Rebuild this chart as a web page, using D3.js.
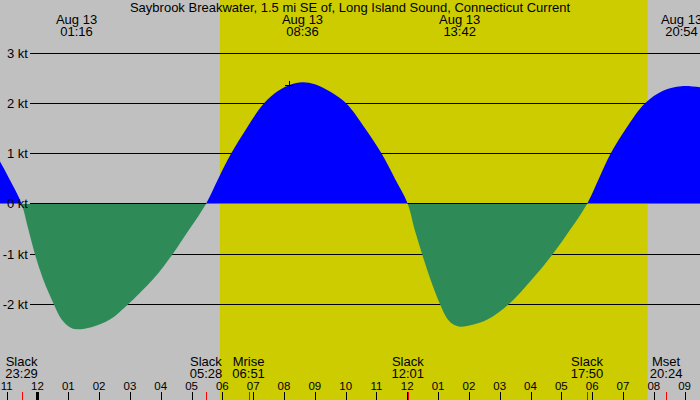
<!DOCTYPE html>
<html>
<head>
<meta charset="utf-8">
<script src="https://cdn.jsdelivr.net/npm/d3@7/dist/d3.min.js"></script>
<style>
  body { margin: 0; background: #c0c0c0; }
  svg { display: block; font-family: "Liberation Sans", Arial, sans-serif; }
</style>
</head>
<body>
<div id="chart"></div>
<script>
var title = "Saybrook Breakwater, 1.5 mi SE of, Long Island Sound, Connecticut Current";

// current speed (time, knots; + flood, - ebb)
var sampleTimes = [
  "08/12 22:05", "08/12 22:38", "08/12 23:05", "08/12 23:29", "08/12 23:42", "08/12 23:55",
  "08/13 00:11", "08/13 00:32", "08/13 00:47", "08/13 01:03", "08/13 01:16", "08/13 01:45",
  "08/13 02:21", "08/13 02:56", "08/13 03:45", "08/13 04:23", "08/13 04:56", "08/13 05:28",
  "08/13 05:52", "08/13 06:17", "08/13 06:47", "08/13 07:21", "08/13 07:49", "08/13 08:12",
  "08/13 08:36", "08/13 09:00", "08/13 09:32", "08/13 10:01", "08/13 10:38", "08/13 11:10",
  "08/13 11:36", "08/13 12:01", "08/13 12:14", "08/13 12:29", "08/13 12:45", "08/13 13:04",
  "08/13 13:19", "08/13 13:30", "08/13 13:42", "08/13 14:09", "08/13 14:36", "08/13 15:17",
  "08/13 16:03", "08/13 16:43", "08/13 17:18", "08/13 17:50", "08/13 18:13", "08/13 18:36",
  "08/13 19:06", "08/13 19:43", "08/13 20:18", "08/13 20:54", "08/13 21:36"];
var sampleKnots = [
  1.5, 1, 0.5, 0, -0.5, -1,
  -1.5, -2, -2.3, -2.45, -2.49, -2.45,
  -2.3, -2, -1.5, -1, -0.5, 0,
  0.5, 1, 1.5, 2, 2.25, 2.37,
  2.42, 2.38, 2.22, 2, 1.5, 1,
  0.5, 0, -0.5, -1, -1.5, -2,
  -2.3, -2.4, -2.44, -2.4, -2.3, -2,
  -1.5, -1, -0.5, 0, 0.5, 1,
  1.5, 2, 2.25, 2.34, 2.31];

// max current labels along the top
var maxTimes = ["08/13 01:16", "08/13 08:36", "08/13 13:42", "08/13 20:54"];

// slack / moon events along the bottom
var eventNames = ["Slack", "Slack", "Mrise", "Slack", "Slack", "Mset"];
var eventTimes = ["08/12 23:29", "08/13 05:28", "08/13 06:51", "08/13 12:01", "08/13 17:50", "08/13 20:24"];

// daylight
var sunrise = "08/13 05:55";
var sunset = "08/13 19:48";

// marker on the flood curve
var markTime = "08/13 08:10";
var markKnots = 2.37;

var yTicks = [3, 2, 1, 0, -1, -2];
var timeRange = ["08/12 22:47", "08/13 21:30"];

var width = 700, height = 400;
var parse = d3.timeParse("%m/%d %H:%M");
var fmt = d3.timeFormat("%H:%M");

var samples = sampleTimes.map(function(t, i) { return {t: parse(t), v: sampleKnots[i]}; });

var svg = d3.select("#chart")
  .append("svg")
  .attr("width", width)
  .attr("height", height);

// Scales
var x = d3.scaleTime()
  .domain(timeRange.map(parse))
  .range([0, width]);

var y = d3.scaleLinear()
  .domain([-2, 3])
  .range([304.5, 53]);

function py(v) { return Math.floor(y(v)) + 0.5; }

// background + daylight band
svg.append("rect")
  .attr("width", width)
  .attr("height", height)
  .attr("fill", "#c0c0c0");

svg.append("rect")
  .attr("x", x(parse(sunrise)))
  .attr("width", x(parse(sunset)) - x(parse(sunrise)))
  .attr("height", height)
  .attr("fill", "#cccc00");

// grid lines (zero line drawn later)
svg.append("g")
  .selectAll("line")
  .data(yTicks.filter(function(d) { return d !== 0; }))
  .join("line")
  .attr("x1", 30)
  .attr("x2", width)
  .attr("y1", py)
  .attr("y2", py)
  .attr("stroke", "#000");

// clip flood above zero, ebb below
var defs = svg.append("defs");
defs.append("clipPath").attr("id", "above")
  .append("rect").attr("width", width).attr("height", py(0) - 0.5);
defs.append("clipPath").attr("id", "below")
  .append("rect").attr("y", py(0) - 0.5).attr("width", width).attr("height", height);

var area = d3.area()
  .x(function(d) { return x(d.t); })
  .y0(y(0))
  .y1(function(d) { return y(d.v); })
  .curve(d3.curveCatmullRom.alpha(0.5));

svg.append("path")
  .datum(samples)
  .attr("clip-path", "url(#above)")
  .attr("fill", "#0000ff")
  .attr("d", area);

svg.append("line")
  .attr("x1", 30)
  .attr("x2", width)
  .attr("y1", py(0))
  .attr("y2", py(0))
  .attr("stroke", "#000");

svg.append("path")
  .datum(samples)
  .attr("clip-path", "url(#below)")
  .attr("fill", "#2e8b57")
  .attr("d", area);

// y labels
svg.append("g")
  .selectAll("text")
  .data(yTicks)
  .join("text")
  .attr("x", 28)
  .attr("y", function(d) { return py(d) + 4.5; })
  .attr("text-anchor", "end")
  .attr("font-size", 13)
  .text(function(d) { return d + " kt"; });

// + marker
var mx = Math.round(x(parse(markTime))) + 0.5, my = Math.round(y(markKnots)) + 0.5;
svg.append("path")
  .attr("d", "M" + (mx - 4.5) + "," + my + "h9M" + mx + "," + (my - 4.5) + "v9")
  .attr("stroke", "#000");

// title
svg.append("text")
  .attr("x", width / 2)
  .attr("y", 12)
  .attr("text-anchor", "middle")
  .attr("font-size", 13)
  .text(title);

// max current labels
var tops = svg.append("g")
  .selectAll("text")
  .data(maxTimes.map(parse))
  .join("text")
  .attr("text-anchor", "middle")
  .attr("font-size", 13)
  .attr("transform", function(d) { return "translate(" + x(d) + ",0)"; });
tops.append("tspan").attr("x", 0).attr("y", 24).text(d3.timeFormat("%b %d"));
tops.append("tspan").attr("x", 0).attr("y", 36).text(fmt);

// event labels
var evs = svg.append("g")
  .selectAll("text")
  .data(eventTimes.map(function(t, i) { return {t: parse(t), name: eventNames[i]}; }))
  .join("text")
  .attr("text-anchor", "middle")
  .attr("font-size", 13)
  .attr("transform", function(d) { return "translate(" + x(d.t) + ",0)"; });
evs.append("tspan").attr("x", 0).attr("y", 366).text(function(d) { return d.name; });
evs.append("tspan").attr("x", 0).attr("y", 378).text(function(d) { return fmt(d.t); });

// hour ticks
var hours = x.ticks(d3.timeHour.every(1));
var axis = svg.append("g");

axis.selectAll("line.hour")
  .data(hours)
  .join("line")
  .attr("class", "hour")
  .attr("x1", function(d) { return Math.round(x(d)) + 0.5; })
  .attr("x2", function(d) { return Math.round(x(d)) + 0.5; })
  .attr("y1", 392)
  .attr("y2", height)
  .attr("stroke", "#000")
  .attr("stroke-width", function(d) { return d.getHours() === 0 ? 3 : 1; });

axis.selectAll("text")
  .data(hours)
  .join("text")
  .attr("x", function(d) { return x(d); })
  .attr("y", 389.5)
  .attr("text-anchor", "middle")
  .attr("font-size", 11.5)
  .text(d3.timeFormat("%I"));

axis.selectAll("line.event")
  .data(eventTimes.map(parse))
  .join("line")
  .attr("class", "event")
  .attr("x1", function(d) { return Math.round(x(d)) + 0.5; })
  .attr("x2", function(d) { return Math.round(x(d)) + 0.5; })
  .attr("y1", 392)
  .attr("y2", height)
  .attr("stroke", "#ff0000");
</script>
</body>
</html>
